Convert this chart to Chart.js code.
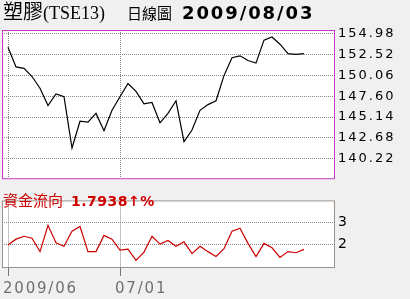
<!DOCTYPE html>
<html>
<head>
<meta charset="utf-8">
<script src="https://cdn.jsdelivr.net/npm/chart.js@4.4.1/dist/chart.umd.min.js"></script>
<style>
  html, body { margin:0; padding:0; background:#f0f0f0; width:410px; height:299px; overflow:hidden; }
  .box { position:absolute; left:0; }
  #top { top:0; width:410px; height:190px; }
  #bot { top:188px; width:410px; height:111px; }
  .txt { position:absolute; white-space:nowrap; z-index:5; }
</style>
</head>
<body>
<div class="box" id="top"><canvas id="c1" width="410" height="190"></canvas></div>
<div class="box" id="bot"><canvas id="c2" width="410" height="111"></canvas></div>

<div class="txt" style="left:3px;top:0px;line-height:22px;font:18px 'DejaVu Sans';">
  <span style="font:20px 'Noto Sans CJK TC';line-height:22px;">塑膠</span><span style="font:18px 'Liberation Serif';line-height:22px;">(TSE13)</span><span style="display:inline-block;width:22px"></span><span style="font:15px 'Noto Sans CJK TC';line-height:22px;">日線圖</span><span style="display:inline-block;width:10px"></span><span style="font:bold 18px 'DejaVu Sans';letter-spacing:1.9px;line-height:22px;">2009/08/03</span>
</div>

<div class="txt" style="left:3px;top:191px;line-height:18px;color:#d00000;">
  <span style="font:15px 'Noto Sans CJK TC';line-height:18px;">資金流向</span><span style="display:inline-block;width:8px"></span><span style="font:bold 14px 'DejaVu Sans';letter-spacing:0.5px;line-height:18px;">1.7938↑%</span>
</div>

<script>
// ---- data ----
const dates = ['06/11','06/12','06/15','06/16','06/17','06/18','06/19','06/22','06/23','06/24','06/25','06/26','06/29','06/30',
  '07/01','07/02','07/03','07/06','07/07','07/08','07/09','07/10','07/13','07/14','07/15','07/16','07/17','07/20','07/21','07/22','07/23','07/24','07/27','07/28','07/29','07/30','07/31',
  '08/03'];
const closes = [153.38,151.07,150.89,149.93,148.54,146.50,147.87,147.54,141.48,144.64,144.53,145.57,143.52,145.94,
  147.54,149.10,148.17,146.69,146.87,144.46,145.57,147.06,142.23,143.60,145.94,146.61,147.06,150.04,152.16,152.38,151.82,151.52,154.23,154.61,153.75,152.64,152.56,
  152.64];
const flow = [1.99,2.25,2.38,2.29,1.69,2.87,2.09,1.93,2.61,2.82,1.69,1.69,2.42,2.25,
  1.76,1.80,1.30,1.67,2.38,2.03,2.19,1.93,2.13,1.60,1.93,1.69,1.47,1.82,2.61,2.74,2.06,1.47,2.06,1.86,1.43,1.69,1.64,
  1.79];
const priceTicks = [154.98,152.52,150.06,147.60,145.14,142.68,140.22];
const flowTicks = [3,2];
const xTickDates = ['06/11','07/01'];
const xTickLabels = ['2009/06','07/01'];

const xTickIdx = xTickDates.map(d => dates.indexOf(d));
const toPts = arr => arr.map((v,i) => ({x:i, y:v}));

function panelPlugin(borderColor){
  return {
    id:'panel',
    beforeDraw(chart){
      const {ctx, chartArea:a} = chart;
      ctx.save();
      ctx.fillStyle = '#ffffff';
      ctx.fillRect(a.left, a.top, a.right-a.left, a.bottom-a.top);
      ctx.restore();
    },
    afterDraw(chart){
      const {ctx, chartArea:a} = chart;
      ctx.save();
      ctx.strokeStyle = borderColor;
      ctx.lineWidth = 1;
      ctx.strokeRect(a.left+0.5, a.top+0.5, a.right-a.left, a.bottom-a.top);
      ctx.restore();
    }
  };
}
function spacing(px){
  return { id:'spacing', beforeDraw(chart){ try{ chart.ctx.letterSpacing = px; }catch(e){} } };
}

const xCommon = {
  type:'linear', min:-0.75, max:40.75,
  afterBuildTicks(s){ s.ticks = xTickIdx.map(v => ({value:v})); },
  border:{display:false, dash:[1,1]},
};

// top chart
new Chart(document.getElementById('c1'), {
  type:'line',
  data:{ datasets:[{ data:toPts(closes), borderColor:'#000000', borderWidth:1.2, pointRadius:0, tension:0, fill:false }]},
  options:{
    responsive:false, animation:false, devicePixelRatio:1,
    layout:{ padding:{left:2, top:30, right:0, bottom:3} },
    plugins:{ legend:{display:false}, tooltip:{enabled:false} },
    scales:{
      x:Object.assign({}, xCommon, {
        grid:{ color:'#888888', drawTicks:false, lineWidth:1 },
        ticks:{ display:false },
        afterFit(s){ s.height = 0; }
      }),
      y:{
        position:'right', min:137.91, max:155.43,
        afterBuildTicks(s){ s.ticks = priceTicks.map(v => ({value:v})); },
        afterFit(s){ s.width = 76; },
        grid:{ color:'#888888', drawTicks:false, lineWidth:1 },
        border:{ display:false, dash:[1,1] },
        ticks:{ padding:4, color:'#000000', font:{family:'DejaVu Sans', size:13},
          callback:(v)=> Number(v).toFixed(2) }
      }
    }
  },
  plugins:[panelPlugin('#c83cc8'), spacing('2px')]
});

// bottom chart
new Chart(document.getElementById('c2'), {
  type:'line',
  data:{ datasets:[{ data:toPts(flow), borderColor:'#cc0000', borderWidth:1.2, pointRadius:0, tension:0, fill:false }]},
  options:{
    responsive:false, animation:false, devicePixelRatio:1,
    layout:{ padding:{left:2, top:3, right:0, bottom:0} },
    plugins:{ legend:{display:false}, tooltip:{enabled:false} },
    scales:{
      x:Object.assign({}, xCommon, {
        grid:{ color:'#888888', drawTicks:true, tickLength:9, tickColor:'#777777', tickBorderDash:[], lineWidth:1 },
        ticks:{ align:'start', labelOffset:-5, padding:4, color:'#707070', maxRotation:0, autoSkip:false,
          font:{family:'DejaVu Sans', size:15},
          callback:(v)=>{ const k = xTickIdx.indexOf(v); return k>=0 ? xTickLabels[k] : ''; } },
        afterFit(s){ s.height = 32; }
      }),
      y:{
        position:'right', min:1.0, max:3.99,
        afterBuildTicks(s){ s.ticks = flowTicks.map(v => ({value:v})); },
        afterFit(s){ s.width = 76; },
        grid:{ color:'#888888', drawTicks:false, lineWidth:1 },
        border:{ display:false, dash:[1,1] },
        ticks:{ padding:4, color:'#000000', font:{family:'DejaVu Sans', size:14},
          callback:(v)=> String(v) }
      }
    }
  },
  plugins:[panelPlugin('#9a928a'), spacing('1.8px')]
});
</script>
</body>
</html>
